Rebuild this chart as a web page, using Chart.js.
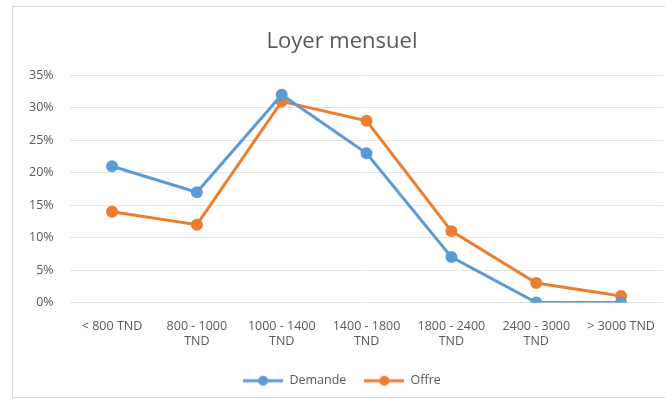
<!DOCTYPE html>
<html>
<head>
<meta charset="utf-8">
<script src="https://cdn.jsdelivr.net/npm/chart.js@4"></script>
<style>
    html, body { margin: 0; padding: 0; background: #fff; }
    #frame {
        position: absolute; left: 12px; top: 6px; width: 660px; height: 392px;
        border: 1px solid #d9d9d9; box-sizing: border-box;
    }
    #wrap { position: absolute; left: 0; top: 0; width: 658px; height: 392px; }
</style>
</head>
<body>
<div id="frame"><div id="wrap"><canvas id="myChart"></canvas></div></div>
<script>
const categories = [
    ['< 800 TND'],
    ['800 - 1000', 'TND'],
    ['1000 - 1400', 'TND'],
    ['1400 - 1800', 'TND'],
    ['1800 - 2400', 'TND'],
    ['2400 - 3000', 'TND'],
    ['> 3000 TND']
];
const demande = [21, 17, 32, 23, 7, 0, 0];
const offre = [14, 12, 31, 28, 11, 3, 1];

// little line + dot for the legend, like the Excel one
function legendMark(color) {
    const c = document.createElement('canvas');
    c.width = 40;
    c.height = 12;
    const g = c.getContext('2d');
    g.strokeStyle = color;
    g.lineWidth = 3;
    g.beginPath();
    g.moveTo(0, 6);
    g.lineTo(40, 6);
    g.stroke();
    g.fillStyle = color;
    g.beginPath();
    g.arc(20, 6, 5, 0, Math.PI * 2);
    g.fill();
    return c;
}

document.addEventListener('DOMContentLoaded', function () {
    const ctx = document.getElementById('myChart');
    Chart.defaults.font.family = "'Open Sans', 'Noto Sans', sans-serif";
    Chart.defaults.color = '#595959';

    new Chart(ctx, {
        type: 'line',
        data: {
            labels: categories,
            datasets: [{
                label: 'Demande',
                data: demande,
                borderColor: '#5B9BD5',
                backgroundColor: '#5B9BD5',
                borderWidth: 3,
                pointRadius: 4.5,
                tension: 0
            }, {
                label: 'Offre',
                data: offre,
                borderColor: '#ED7D31',
                backgroundColor: '#ED7D31',
                borderWidth: 3,
                pointRadius: 4.5,
                tension: 0
            }]
        },
        options: {
            responsive: true,
            maintainAspectRatio: false,
            animation: false,
            layout: {
                padding: { left: 0, right: 0, top: 14, bottom: 2 }
            },
            scales: {
                x: {
                    offset: true,
                    grid: { display: false },
                    border: { display: false },
                    ticks: {
                        maxRotation: 0,
                        autoSkip: false,
                        font: { size: 12.5 },
                        padding: 8
                    }
                },
                y: {
                    min: 0,
                    max: 35,
                    grid: { color: '#e3e3e3', drawTicks: false },
                    border: { display: false },
                    ticks: {
                        stepSize: 5,
                        padding: 16,
                        font: { size: 12.5 },
                        callback: function (v) { return v + '%'; }
                    }
                }
            },
            plugins: {
                title: {
                    display: true,
                    text: 'Loyer mensuel',
                    font: { size: 22, weight: 'normal' },
                    padding: { top: 8, bottom: 20 }
                },
                legend: {
                    display: true,
                    position: 'bottom',
                    labels: {
                        font: { size: 12.5 },
                        usePointStyle: true,
                        pointStyleWidth: 40,
                        padding: 18,
                        generateLabels: function (chart) {
                            return chart.data.datasets.map(function (ds, i) {
                                return {
                                    text: ds.label,
                                    pointStyle: legendMark(ds.borderColor),
                                    fillStyle: ds.borderColor,
                                    strokeStyle: ds.borderColor,
                                    lineWidth: 0,
                                    fontColor: '#595959',
                                    datasetIndex: i
                                };
                            });
                        }
                    }
                },
                tooltip: { enabled: false }
            }
        }
    });
});
</script>
</body>
</html>
